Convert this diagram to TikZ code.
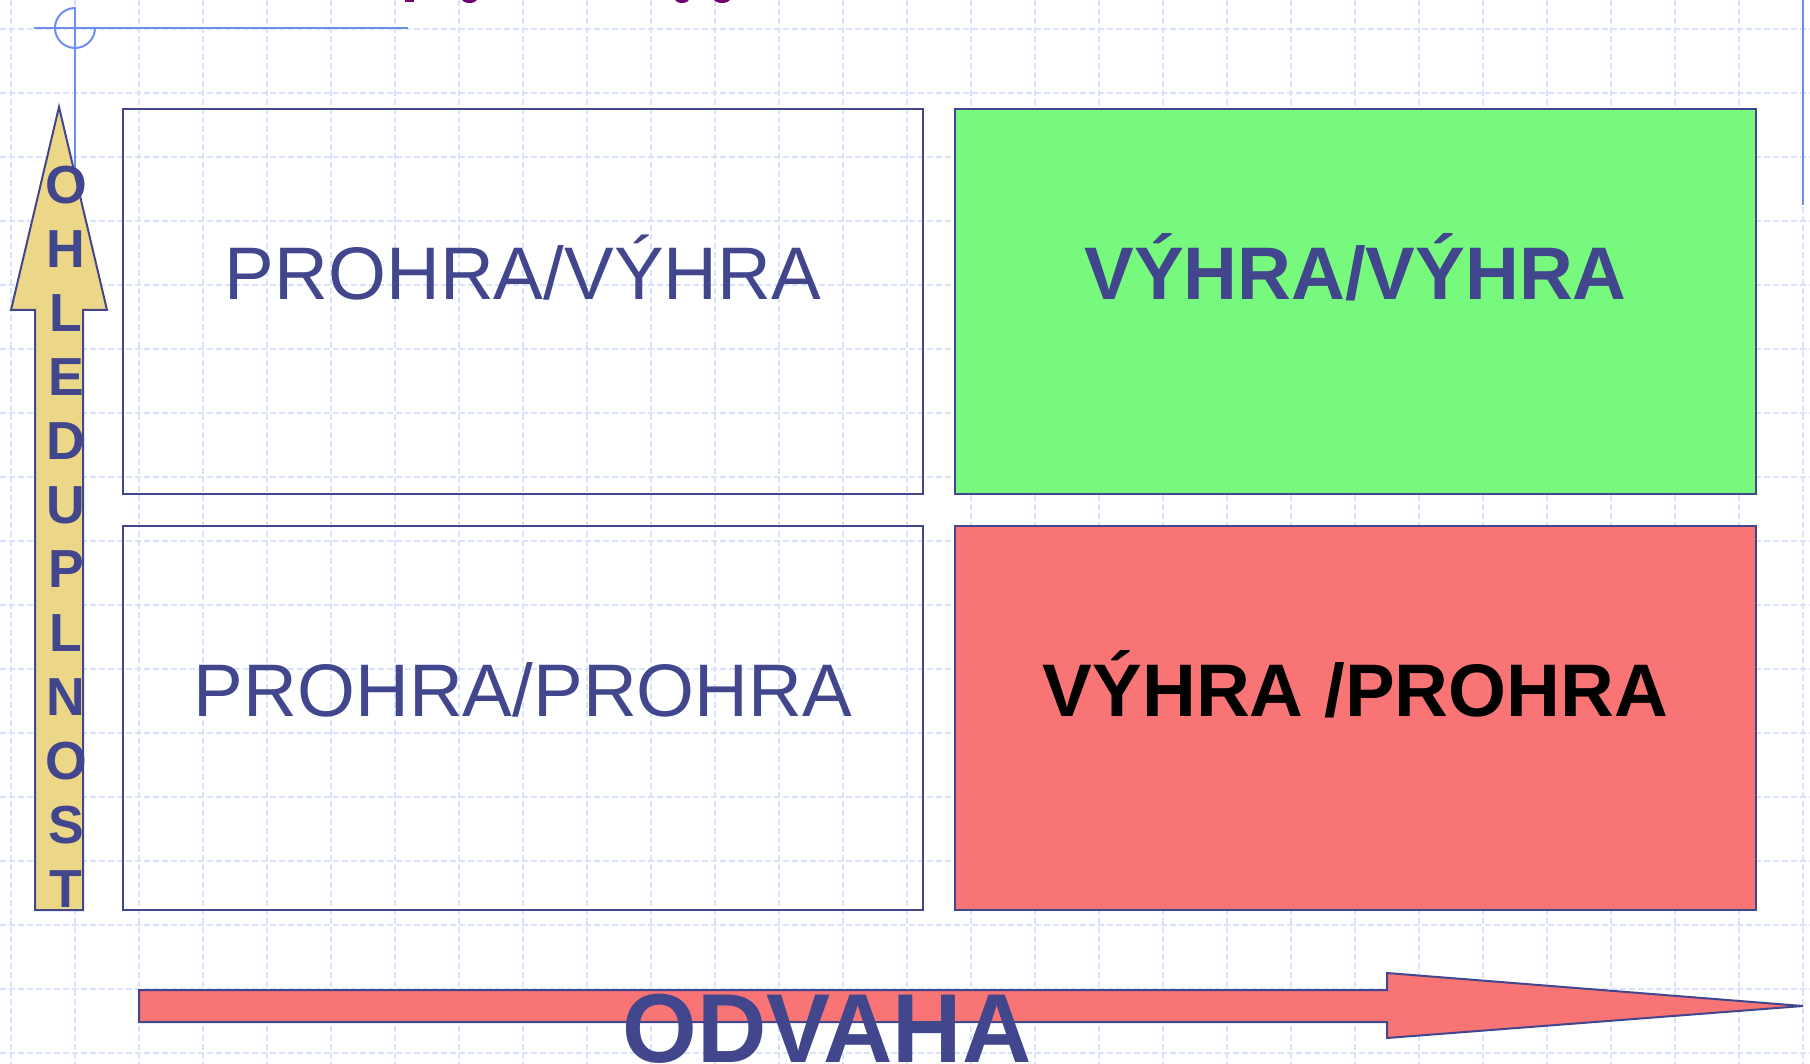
\documentclass[tikz,border=0pt]{standalone}
\usepackage{fontspec}
\setmainfont{Liberation Sans}

\definecolor{tmavomodra}{RGB}{66,70,140}
\definecolor{zelena}{RGB}{118,249,124}
\definecolor{cervena}{RGB}{249,116,116}
\definecolor{zluta}{RGB}{236,215,136}
\definecolor{linkamodra}{RGB}{108,142,242}
\definecolor{mrizka}{RGB}{216,226,252}
\definecolor{fialova}{RGB}{112,0,112}

\tikzset{
  mriz/.style={draw=mrizka, line width=1.5pt, dash pattern=on 6pt off 3pt},
  ozdoba/.style={draw=linkamodra, line width=2pt},
  pole/.style={draw=tmavomodra, line width=2pt},
  sipka/.style={draw=tmavomodra, line width=2pt},
  napis/.style={font=\fontsize{74.5}{80}\selectfont, text=tmavomodra,
                anchor=base, inner sep=0pt},
  napistucny/.style={napis, font=\fontsize{74.5}{80}\selectfont\bfseries},
  pismeno/.style={font=\fontsize{53.6}{56}\selectfont\bfseries,
                  text=tmavomodra, anchor=base, inner sep=0pt},
}

\begin{document}
\begin{tikzpicture}[x=1pt,y=-1pt]

  \useasboundingbox (0,0) rectangle (1810,1064);

  \begin{scope}   % mrizka v pozadi
    \foreach \i in {0,...,28}
      \draw[mriz] ({11+64*\i},0)--({11+64*\i},1064);
    \foreach \j in {0,...,16}
      \draw[mriz] (0,{29+64*\j})--(1810,{29+64*\j});
  \end{scope}

  \begin{scope}   % ozdobne linky sablony
    \draw[ozdoba] (34,28)--(408,28);
    \draw[ozdoba] (75,7)--(75,230);
    \draw[ozdoba] (95,28) arc[start angle=0,end angle=270,radius=20];
    \draw[ozdoba] (1803,0)--(1803,205);
    % zbytky nadpisu nahore
    \fill[fialova] (405,-2) rectangle (414,2);
    \fill[fialova] (469.5,-1) ellipse (7.5 and 4);
    \fill[fialova] (682,-1) ellipse (7 and 4);
    \fill[fialova] (722,-1) ellipse (8 and 4);
  \end{scope}

  \begin{scope}   % ctyri pole
    \def\Ax{123};
    \def\Bx{923};
    \def\Cx{955};
    \def\Dx{1756};
    \def\Ay{109};
    \def\By{494};
    \def\Cy{526};
    \def\Dy{910};
    \def\Ty{300};   % uctaric horni radky
    \def\Uy{716};   % uctaric dolni radky

    \draw[pole] (\Ax,\Ay) rectangle (\Bx,\By);
    \filldraw[pole, fill=zelena] (\Cx,\Ay) rectangle (\Dx,\By);
    \draw[pole] (\Ax,\Cy) rectangle (\Bx,\Dy);
    \filldraw[pole, fill=cervena] (\Cx,\Cy) rectangle (\Dx,\Dy);

    \node[napis] (PV) at ({(\Ax+\Bx)/2},\Ty) {PROHRA/VÝHRA};
    \node[napistucny] (VV) at ({(\Cx+\Dx)/2},\Ty) {VÝHRA/VÝHRA};
    \node[napis] (PP) at ({(\Ax+\Bx)/2},\Uy) {PROHRA/PROHRA};
    \node[napistucny, text=black] (VP) at ({(\Cx+\Dx)/2},\Uy)
         {VÝHRA /PROHRA};
  \end{scope}

  \begin{scope}   % svisla sipka ohleduplnost
    \filldraw[sipka, fill=zluta] (59,107)--(107,310)--(83,310)--(83,910)
         --(35,910)--(35,310)--(11,310)--cycle;
    \foreach \p [count=\i from 0] in {O,H,L,E,D,U,P,L,N,O,S,T}
      \node[pismeno] (ohl\i) at (66,{203.7+64*\i}) {\p};
  \end{scope}

  \begin{scope}   % vodorovna sipka odvaha
    \filldraw[sipka, fill=cervena] (139,990)--(1387,990)--(1387,973)
         --(1803,1006)--(1387,1038)--(1387,1022)--(139,1022)--cycle;
    \node[anchor=base, inner sep=0pt, text=tmavomodra,
          font=\fontsize{98}{100}\selectfont\bfseries] (odvaha) at (827,1062)
         {\scalebox{0.98}[1]{ODVAHA}};
  \end{scope}

\end{tikzpicture}
\end{document}
